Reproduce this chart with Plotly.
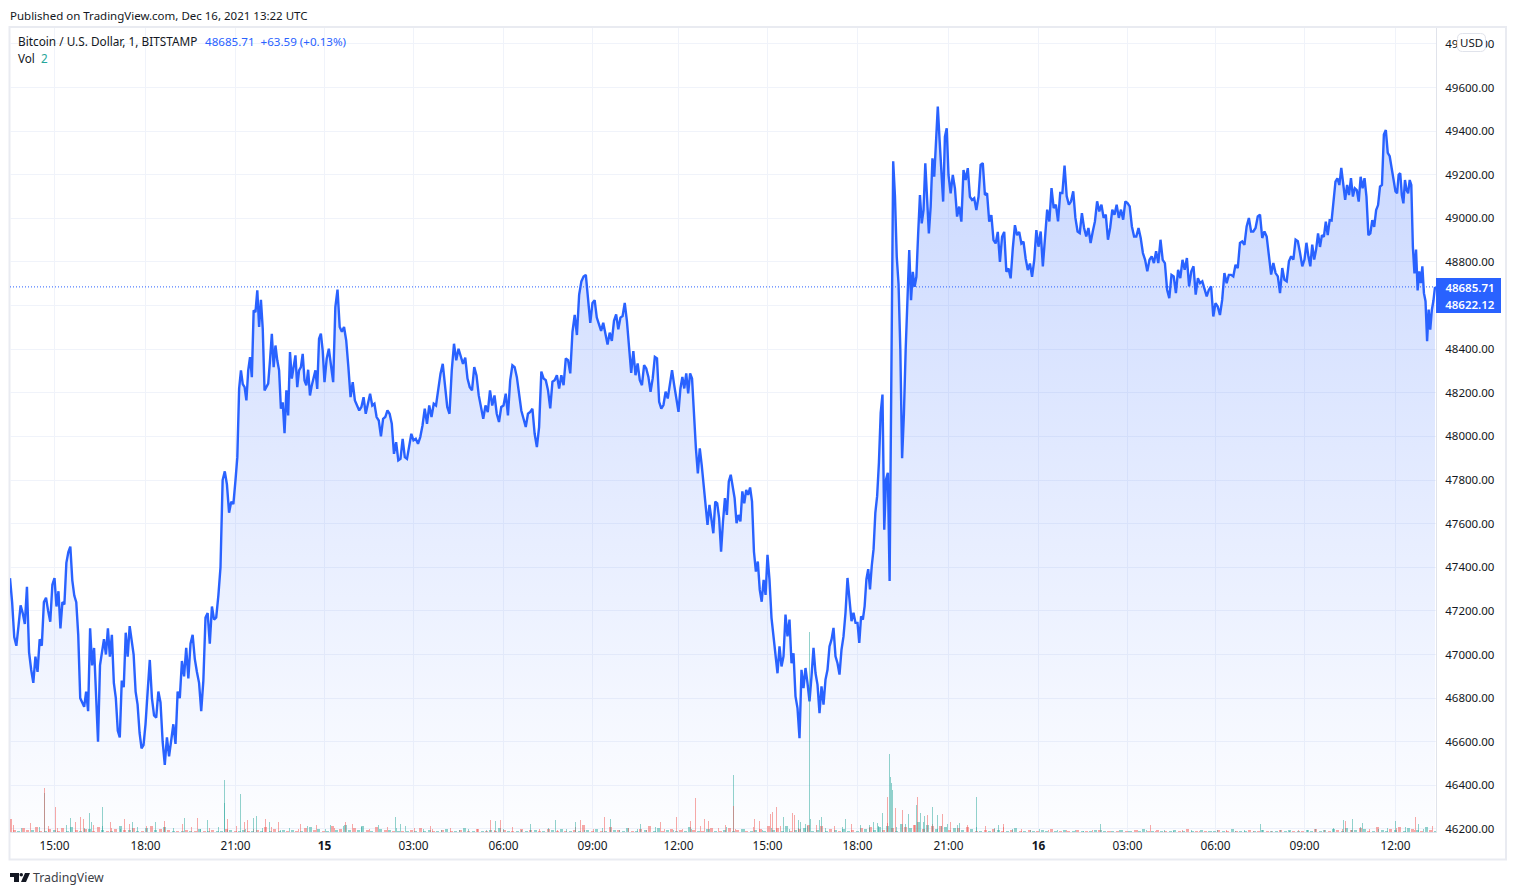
import numpy as np
import plotly.graph_objects as go

# Bar index of each time-axis label (the feed has gaps, so spacing is not uniform)
tick_bars = [89, 271, 451, 629, 807, 987, 1165, 1337, 1515, 1695, 1877, 2057, 2235, 2411, 2589, 2771]
tick_labels = ["15:00", "18:00", "21:00", "<b>15</b>", "03:00", "06:00", "09:00", "12:00",
               "15:00", "18:00", "21:00", "<b>16</b>", "03:00", "06:00", "09:00", "12:00"]
price_ticks = [46200 + 200 * i for i in range(19)]
last_bar = 2850
last_close = 48685.71
prev_close = 48622.12

# BTC/USD one-minute closes, grouped by the three-hour block they fall in
close_0 = [47350, 47240, 47080, 47040, 47130, 47225, 47190, 47140, 47310, 47010, 46930, 46870, 46990, 46920,
           47070, 47040, 47240, 47260, 47200, 47150, 47320, 47350]
close_1 = [47220, 47290, 47120, 47240, 47230, 47420, 47470, 47495, 47340, 47270, 47240, 47090, 46800, 46780,
           46760, 46830, 46740, 47120, 46950, 47030, 46800, 46600, 46950, 47020, 47070, 47000, 47120, 46990,
           47090, 46870, 46800, 46650, 46620, 46880, 46850, 47100, 46990, 47130, 47070, 47000, 46830, 46770,
           46640, 46570, 46585, 46680]
close_2 = [46830, 46975, 46800, 46720, 46710, 46830, 46780, 46600, 46494, 46620, 46533, 46610, 46680, 46590,
           46830, 46800, 46970, 46900, 47030, 46890, 47050, 47090, 46980, 46920, 46870, 46740, 46880, 47170,
           47190, 47050, 47220, 47160, 47170, 47270, 47400, 47800, 47840, 47780, 47650, 47700, 47690, 47800]
close_3 = [47905, 48219, 48303, 48240, 48226, 48165, 48303, 48364, 48272, 48578, 48570, 48670, 48502, 48627,
           48494, 48211, 48230, 48242, 48349, 48471, 48318, 48417, 48349, 48303, 48127, 48157, 48015, 48211,
           48096, 48387, 48265, 48318, 48372, 48226, 48303, 48318, 48379, 48257, 48234, 48306, 48188, 48234,
           48265, 48303, 48218, 48448, 48471, 48395, 48249]
close_4 = [48356, 48402, 48326, 48249, 48593, 48673, 48502, 48480, 48502, 48440, 48318, 48180, 48249, 48165,
           48142, 48119, 48135, 48180, 48104, 48157, 48196, 48142, 48150, 48089, 48073, 48000, 48081, 48089,
           48119, 48104, 48058, 47920, 47974, 47890, 47897, 47989, 47905, 47897, 47959, 48012, 47982]
close_5 = [47989, 47966, 47997, 48050, 48127, 48058, 48142, 48089, 48150, 48142, 48219, 48288, 48333, 48234,
           48135, 48104, 48303, 48425, 48349, 48402, 48372, 48333, 48361, 48265, 48226, 48211, 48318, 48280,
           48188, 48127, 48081, 48142, 48112, 48211, 48142, 48188, 48104, 48066, 48135, 48142]
close_6 = [48196, 48096, 48257, 48326, 48318, 48272, 48196, 48119, 48081, 48043, 48104, 48112, 48127, 48012,
           47951, 48043, 48297, 48266, 48258, 48212, 48129, 48251, 48258, 48281, 48220, 48281, 48235, 48358,
           48350, 48289, 48480, 48557, 48465, 48650, 48711, 48733, 48741, 48620, 48521, 48612]
close_7 = [48625, 48545, 48514, 48484, 48521, 48468, 48422, 48476, 48438, 48530, 48560, 48491, 48545, 48552,
           48612, 48530, 48422, 48291, 48391, 48281, 48335, 48258, 48235, 48327, 48312, 48273, 48205, 48266,
           48365, 48358, 48159, 48128, 48144, 48205, 48174, 48251, 48304, 48235, 48174, 48113]
close_8 = [48220, 48273, 48220, 48289, 48197, 48289, 48266, 48067, 47945, 47830, 47945, 47868, 47778, 47686,
           47594, 47686, 47610, 47556, 47701, 47693, 47625, 47472, 47610, 47717, 47640, 47794, 47824, 47763,
           47717, 47602, 47640, 47610, 47748, 47693, 47755, 47732, 47766, 47701, 47471, 47380, 47426, 47296,
           47242, 47342, 47273, 47457]
close_9 = [47342, 47168, 47083, 46975, 46914, 47037, 46945, 46991, 47183, 47083, 47160, 46960, 47006, 46808,
           46754, 46616, 46930, 46846, 46938, 46869, 46785, 46900, 47030, 46915, 46862, 46731, 46854, 46770,
           46885, 46930, 47037, 47068, 47122, 46992, 46960, 46908, 47022, 47083, 47191, 47351, 47267, 47153,
           47191, 47145, 47145]
close_10 = [47053, 47175, 47160, 47222, 47345, 47391, 47299, 47407, 47483, 47650, 47726, 47879, 48108, 48192,
            47572, 47803, 47833, 47337, 48260, 49262, 49100, 48824, 48700, 48400, 47900, 48100, 48400, 48600,
            48855, 48625, 48755, 48686, 48732, 48931, 49107, 48977, 49038, 49252, 49054, 48931, 49054, 49275,
            49191, 49360, 49513, 49360, 49237, 49077, 49375, 49413, 49199]
close_11 = [49115, 49199, 49138, 49008, 49054, 48985, 49222, 49176, 49230, 49099, 49084, 49092, 49038, 49099,
            49245, 49253, 49107, 49115, 48985, 49015, 48900, 48885, 48938, 48800, 48916, 48938, 48755, 48770,
            48725, 48862, 48969, 48923, 48938, 48885, 48893, 48816, 48763, 48793, 48732, 48808, 48946, 48870]
close_12 = [48940, 48780, 48917, 49040, 48986, 49139, 49047, 49063, 48986, 49116, 49116, 49242, 49101, 49063,
            49078, 49124, 49002, 48940, 48933, 49024, 48956, 48917, 48956, 48887, 48940, 48986, 49078, 49032,
            49063, 49002, 49017, 48902, 48956, 49040, 49017, 49063, 49002, 49040, 48994, 49078, 49070]
close_13 = [49055, 48963, 48917, 48917, 48956, 48910, 48841, 48810, 48757, 48810, 48826, 48795, 48849, 48795,
            48902, 48810, 48795, 48673, 48634, 48741, 48734, 48657, 48764, 48726, 48810, 48764, 48818, 48688,
            48757, 48780, 48650, 48726, 48703, 48711, 48680, 48642, 48673, 48688, 48550, 48611]
close_14 = [48596, 48557, 48626, 48749, 48703, 48741, 48741, 48734, 48787, 48772, 48887, 48894, 48879, 48963,
            49002, 48940, 48940, 48956, 49009, 49017, 48910, 48940, 48917, 48820, 48742, 48795, 48749, 48734,
            48657, 48772, 48718, 48711, 48803, 48826, 48811, 48902, 48895, 48841, 48780, 48811]
close_15 = [48888, 48826, 48780, 48880, 48811, 48857, 48931, 48869, 48923, 48915, 48985, 48923, 48992, 48990,
            49100, 49169, 49184, 49153, 49232, 49146, 49085, 49153, 49107, 49184, 49100, 49138, 49130, 49077,
            49191, 49138, 49184, 49100, 48923, 48931, 48992, 48961, 49038, 49061, 49146, 49153, 49385, 49405,
            49300, 49285, 49223, 49161, 49123]
close_16 = [49115, 49200, 49207, 49107, 49069, 49176, 49130, 49115, 49176, 49153, 48869, 48747, 48857, 48670,
            48757, 48703, 48780, 48657, 48620, 48437, 48582, 48490, 48580, prev_close, last_close]

close_blocks = [close_0, close_1, close_2, close_3, close_4, close_5, close_6, close_7, close_8,
                close_9, close_10, close_11, close_12, close_13, close_14, close_15, close_16]

# Small background volume, evenly through the session; negative means a down bar
vol_floor = [-2.6, -0.4, 0.3, -0.9, -0.5, 0.4, -1.0, -0.3, 0.2, -0.6, 0.5, -0.3, -0.8, 0.3, 1.0, -0.4, 0.2, -0.7,
             0.6, -0.3, -1.1, 0.4, -0.2, 0.3, -0.6, 1.3, -0.5, 0.4, -0.9, 0.2, -0.3, 0.8, -1.2, 0.4, -0.6, 1.1,
             -0.4, 0.3, -0.2, 0.2, -0.5, 0.3, -0.2, 0.6, -0.3, 0.2, -0.4, 0.3, 0.2, -0.6, 0.4, -0.3, 0.2, 0.5,
             -0.2, 0.3, -0.4, 0.2, -1.0, 0.3, -0.6, 0.2, 0.4, -0.3, 0.5, -0.2, 0.3, -0.8, 1.1, -0.4, 0.7, -0.3,
             0.3, -1.3, 0.4, -0.6, 1.5, 0.5, -0.9, 0.4, 1.2, -0.5, 0.3, -1.1, 0.6, -0.4, 0.5, -0.2, 0.3, -0.3,
             0.2, -0.4, 0.3, -0.8, 0.2, 0.4, -0.3, 0.2, -0.5, 0.6, -0.3, 0.3, -0.4, 0.9, -0.2, 0.3, -0.6, 0.2,
             -0.3, 0.4, -0.2, 0.8, -0.5, 0.3, -0.2, 0.2, -0.7, 0.3, -0.4, 0.5, -0.3, 0.2, -0.6, 0.4, -0.2, 0.7,
             -0.3, 0.3, -0.5, 0.2, -1.4, 0.4, -0.3, 0.6, -0.2, 0.3, -1.0, 0.5, -0.4, 0.2, 0.9, -0.3, 0.3, -0.6,
             0.4, -1.2, 0.2, 0.8, -0.3, 0.5, -0.7, 0.2, -0.4, 0.3, 1.1, -0.5, 0.2, -0.3, 0.6, -0.8, 0.3, -0.2,
             0.4, -0.9, 0.3, -0.5, 0.7, -0.3, 0.2, 0.4, -0.6, 0.3, -1.3, 0.5, -0.8, 0.2, 1.2, -0.3, 0.4, -0.6,
             0.9, -1.5, 0.3, 0.5, -1.2, 0.2, -0.6, 0.4, -0.3, 0.7, 0.3, -0.5, 0.2, -0.9, 0.6, -1.1, 0.4, 1.0,
             -0.5, 1.3, -0.8, 0.3, 1.7, -1.0, 0.8, -1.4, 2.0, -0.6, 1.5, -1.2, 0.7, -1.3, 1.0, -0.5, 0.9, -0.8,
             0.4, -1.0, 0.6, -0.3, 0.2, -0.5, 0.3, -0.7, 0.4, -0.2, 0.3, -0.4, 0.8, -0.3, 0.2, -0.5, 0.3, -0.2,
             0.4, 0.2, -0.6, 0.3, -0.2, 0.5, -0.3, 0.2, -0.4, 0.3, -0.2, 0.2, 0.4, -0.5, 0.3, -0.2, 0.3, -0.3,
             0.5, -0.2, 0.2, -0.4, 0.3, 0.6, -0.2, 0.3, -0.5, 0.2, -0.3, 0.2, 0.4, -0.2, 0.3, -0.6, 0.2, -0.3,
             0.5, -0.2, 0.3, 0.2, -0.4, 0.3, -0.2, 0.6, -0.3, 0.2, 0.3, -0.5, 0.2, -0.3, 0.4, -0.2, 0.2, 0.3,
             -0.4, 0.2, 0.5, -0.3, 0.2, -0.2, 0.4, 0.3, -0.6, 0.2, 0.5, -0.3, 0.7, -0.4, 0.3, 0.9, -0.5, 0.4,
             -0.8, 0.6, -0.3, 0.3, -1.1, 0.5, 0.2, -0.6, 0.4, -1.0, 0.3, 0.8, -0.7, 0.4, -0.3, 1.0, -0.5, 0.3]

# A second, coarser pass of moderate bars laid over the background volume
vol_swell = [-1.4, 0.8, -1.8, 1.0, -1.2, -0.8, 1.4, -2.0, 0.9, -1.5, 1.2, -0.9, 0.7, -1.6, 1.1, -1.3, 2.0, -1.0, 0.8, -1.7,
             -1.1, 0.6, -0.8, 1.0, 0.5, -1.2, 0.6, -0.7, 0.9, -1.0, 0.5, 0.8, -0.6, 1.2, -1.4, 0.7, -0.9, 1.3, -1.6, 1.0,
             -0.7, 1.5, -1.1, 0.8, 1.2, -0.9, 0.6, -0.6, 0.5, -0.8, 0.4, 0.7, -0.6, 0.5, -0.4, 0.6, -1.0, 0.5, 0.4, -0.7,
             0.9, -0.5, 0.6, -1.1, 0.5, -0.6, 0.8, -0.4, 0.5, -0.9, 0.6, -0.5, 1.0, -0.7, 0.5, -0.6, 0.7, -1.3, 0.6, -0.8,
             1.1, -0.6, 0.7, -1.0, 0.5, 0.8, -1.2, 0.6, -0.9, 1.2, -1.5, 0.9, -1.3, 1.0, -1.6, 1.4, -0.8, 1.2, -1.9, 1.0,
             1.6, -1.4, 2.1, -1.7, 1.3, -2.0, 1.8, -1.5, 1.1, -1.2, 0.9, -1.0, 0.7, -0.6, 0.5, 0.6, -0.5, 0.4, -0.4, 0.5,
             0.3, -0.4, 0.5, -0.3, 0.4, 0.3, -0.5, 0.4, -0.3, 0.5, 0.3, -0.4, 0.4, -0.3, 0.3, 0.5, -0.4, 0.3, 0.4, -0.3,
             0.5, -0.3, 0.4, 0.3, -0.5, 0.4, 0.7, -0.4, 0.8, -0.6, 0.5, 1.0, -0.7, 0.6, 0.9, -0.8, 1.1, -0.5, 0.7, -1.2]

# Individual volume spikes: bar index and size, negative means a down bar
spike_bars = [68, 69, 90, 120, 140, 146, 158, 162, 184, 200, 228, 244, 308, 348, 374, 394, 428, 429, 434, 460,
              468, 474, 486, 492, 510, 518, 536, 580, 640, 670, 770, 780, 840, 960, 970, 980, 1040, 1090, 1130, 1140,
              1188, 1200, 1260, 1300, 1332, 1360, 1370, 1388, 1396, 1430, 1446, 1447, 1488, 1498, 1520, 1524, 1532,
              1546, 1564, 1568, 1576, 1580, 1590, 1598, 1600, 1618, 1622, 1670, 1718, 1726, 1734, 1744, 1754, 1758,
              1760, 1762, 1764, 1770, 1784, 1796, 1812, 1814, 1820, 1828, 1834, 1844, 1854, 1864, 1874, 1894, 1932,
              1976, 1986, 2180, 2280, 2500, 2666, 2670, 2684, 2704, 2770, 2810, 2816]
spike_vols = [7.8, -8.8, -5.0, 2.8, -3.0, -2.6, 3.8, 2.0, 5.0, -2.0, -2.6, 2.0, -2.2, 2.8, -2.8, 2.4, 10.4, 5.8, -2.6, 7.6,
              -2.0, -2.4, 2.8, 3.2, -2.6, 2.0, -2.0, -1.6, 1.4, -2.0, 3.0, 1.6, -1.2, -2.4, 2.2, -2.4, 1.6, 2.4, 2.0, -2.4,
              -3.0, 2.6, 1.6, -2.0, -3.0, -2.2, -6.8, -2.6, -2.2, -1.4, 11.4, -5.2, -2.6, -2.2, -3.6, -4.0, -5.0,
              3.0, -3.8, -3.4, 2.4, 2.0, 1.6, 40.0, 2.6, 2.4, 3.0, 2.6, 1.4, 2.0, 1.8, 3.8, -7.0, 15.6,
              11.0, 9.8, 8.4, -4.8, -4.4, 3.6, 5.4, -7.0, 3.8, 3.2, -3.4, 5.0, 3.4, -3.6, 1.6, 1.4, 7.0,
              1.4, -1.6, 1.6, -1.4, 1.6, 2.4, -2.2, 2.6, 1.8, 2.2, -3.0, 1.6]

# Each block's closes sit evenly between its two neighbouring time labels
block_edges = [0] + tick_bars + [last_bar]
bars, closes = [], []
for i, block in enumerate(close_blocks):
    bars.extend(np.linspace(block_edges[i], block_edges[i + 1], len(block) + 1)[1:] if i else
                np.linspace(block_edges[0], block_edges[1], len(block)))
    closes.extend(block)

floor_bars = np.linspace(0, last_bar, len(vol_floor))
swell_bars = np.linspace(6, last_bar - 6, len(vol_swell))

W, H = 1516, 895
plot_left, plot_right, plot_top, plot_bottom = 10, 1436, 28, 832
price_top = 49873
price_bottom = 46186
BLUE = "#2962ff"
UP = "rgba(38,166,154,0.5)"
DOWN = "rgba(239,83,80,0.5)"
TEXT = "#131722"
FONT = "Noto Sans"
FRAME = "#e9ebf1"
GRID = "#f0f3fa"


def px(x):
    return x / W


def py(y):
    return 1 - y / H


def bar_trace(x, v, width):
    return go.Bar(x=list(x), y=[abs(a) for a in v], width=width,
                  marker=dict(color=[UP if a > 0 else DOWN for a in v], line_width=0),
                  yaxis="y2", hoverinfo="skip", showlegend=False)


fig = go.Figure()
fig.add_trace(bar_trace(floor_bars, vol_floor, 6))
fig.add_trace(bar_trace(swell_bars, vol_swell, 2))
fig.add_trace(bar_trace(spike_bars, spike_vols, 2))
fig.add_trace(go.Scatter(
    x=bars, y=closes, mode="lines", line=dict(color=BLUE, width=2.4), fill="tozeroy",
    fillgradient=dict(type="vertical", start=46186, stop=49510,
                      colorscale=[[0, "rgba(41,98,255,0.01)"], [1, "rgba(41,98,255,0.255)"]]),
    hoverinfo="skip", showlegend=False))


def label(x, y, text, color=TEXT, size=11.5, **kw):
    fig.add_annotation(xref="paper", yref="paper", x=px(x), y=py(y),
                       text=text, showarrow=False, xanchor=kw.pop("xanchor", "left"),
                       yanchor="middle", font=dict(family=FONT, size=size, color=color),
                       borderpad=0, **kw)


label(9, 15, "Published on TradingView.com, Dec 16, 2021 13:22 UTC")
label(17, 41, "Bitcoin / U.S. Dollar, 1, BITSTAMP", size=11.8)
label(204, 41, "48685.71&nbsp;&nbsp;+63.59 (+0.13%)", color=BLUE, size=11.6)
label(17, 58, "Vol", size=11.7)
label(40, 58, "2", color="#26a69a", size=11.7)
label(32, 877, "TradingView", size=12.3, color="#3d3f47")

# Last-price and previous-close flags on the price scale; the lower one is nudged clear of the upper
for value, nudge in ((last_close, 0), (prev_close, -3.5)):
    fig.add_annotation(xref="paper", yref="y", x=px(1436), y=value, xanchor="left", yanchor="middle",
                       yshift=nudge, text=f"&nbsp;{value:.2f}", showarrow=False, width=65, height=18,
                       align="center", bgcolor=BLUE, borderpad=0, borderwidth=0,
                       font=dict(family=FONT, size=11.5, color="white", weight=600))


def rounded_path(x0, y0, x1, y1, r):
    return (f"M{px(x0 + r)},{py(y0)} L{px(x1 - r)},{py(y0)} Q{px(x1)},{py(y0)} {px(x1)},{py(y0 + r)} "
            f"L{px(x1)},{py(y1 - r)} Q{px(x1)},{py(y1)} {px(x1 - r)},{py(y1)} "
            f"L{px(x0 + r)},{py(y1)} Q{px(x0)},{py(y1)} {px(x0)},{py(y1 - r)} "
            f"L{px(x0)},{py(y0 + r)} Q{px(x0)},{py(y0)} {px(x0 + r)},{py(y0)} Z")


def poly(points):
    return "M" + " L".join(f"{px(a)},{py(b)}" for a, b in points) + " Z"


shapes = [
    # panel frame
    dict(type="rect", xref="paper", yref="paper", x0=px(9.5), x1=px(1506), y0=py(27), y1=py(859.5),
         line=dict(color=FRAME, width=2), layer="below"),
    # last-price line
    dict(type="line", xref="x", yref="y", x0=0, x1=2852, y0=last_close, y1=last_close,
         line=dict(color=BLUE, width=1, dash="1px,2px")),
    # currency badge on the price scale
    dict(type="path", xref="paper", yref="paper", path=rounded_path(1457.5, 33.5, 1485.5, 51.5, 5),
         fillcolor="white", line=dict(color="#e0e3eb", width=1)),
    # brand mark beside the footer wordmark
    dict(type="path", xref="paper", yref="paper",
         path=poly([(10, 873), (19, 873), (19, 882), (14, 882), (14, 877), (10, 877)]),
         fillcolor="#131722", line_width=0),
    dict(type="circle", xref="paper", yref="paper", x0=px(19.5), x1=px(23), y0=py(873), y1=py(876.5),
         fillcolor="#131722", line_width=0),
    dict(type="path", xref="paper", yref="paper",
         path=poly([(25, 873), (30, 873), (26, 882), (21, 882)]),
         fillcolor="#131722", line_width=0),
]
label(1471.5, 42.5, "USD", xanchor="center")

fig.update_layout(
    width=W, height=H, margin=dict(l=0, r=0, t=0, b=0, autoexpand=False), autosize=False,
    paper_bgcolor="white", plot_bgcolor="white", bargap=0, barmode="overlay", showlegend=False,
    shapes=shapes,
    xaxis=dict(domain=[px(plot_left), px(plot_right)], range=[0, 2852], tickmode="array",
               tickvals=tick_bars, ticktext=tick_labels, showgrid=True, gridcolor=GRID, gridwidth=1,
               zeroline=False, showline=True, linecolor="#e0e3eb", ticks="outside", ticklen=3,
               tickcolor="rgba(0,0,0,0)", tickfont=dict(family=FONT, size=11.8, color=TEXT)),
    yaxis=dict(domain=[py(plot_bottom), py(plot_top)], range=[price_bottom, price_top], side="right",
               tickmode="array", tickvals=price_ticks, ticktext=[f"{v}.00" for v in price_ticks],
               showgrid=True, gridcolor=GRID, gridwidth=1, zeroline=False, showline=True,
               linecolor="#e0e3eb", ticks="outside", ticklen=6, tickcolor="rgba(0,0,0,0)",
               tickfont=dict(family=FONT, size=11.5, color=TEXT)),
    yaxis2=dict(domain=[py(plot_bottom), py(plot_top)], overlaying="y", range=[0, 160.8], visible=False),
)

fig.write_html("out.html")
